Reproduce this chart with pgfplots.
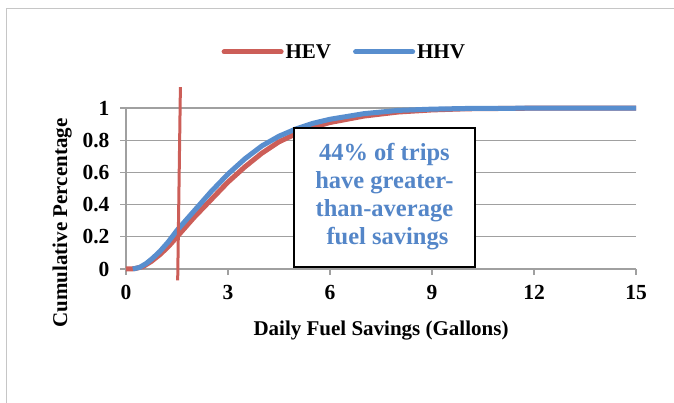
\documentclass[border=0pt]{standalone}
\usepackage{pgfplots}
\pgfplotsset{compat=1.18}
\usepackage{fontspec}
\setmainfont{Liberation Serif}
\definecolor{hevred}{RGB}{204,94,88}
\definecolor{hhvblue}{RGB}{88,142,206}
\definecolor{txtblue}{RGB}{84,134,200}
\definecolor{gridgray}{RGB}{160,160,160}
\begin{document}
\begin{tikzpicture}[x=1bp,y=1bp]
\path[use as bounding box] (0,0) rectangle (674,402);
\draw[gray!45, line width=1.2bp] (6.5,-10) -- (6.5,393.5) -- (690,393.5);
\begin{axis}[
  at={(126bp,133bp)}, anchor=south west,
  scale only axis, width=510bp, height=161bp,
  xmin=0, xmax=15, ymin=0, ymax=1,
  xtick={0,3,...,15}, ytick={0,0.2,...,1},
  yticklabels={0,0.2,0.4,0.6,0.8,1},
  axis lines*=left,
  axis line style={gridgray, line width=1.3bp},
  ymajorgrids, grid style={gridgray, line width=1.3bp},
  tick align=outside, major tick length=6bp,
  tick style={gridgray, line width=1.3bp},
  /pgf/number format/assume math mode=true,
  ticklabel style={font=\fontsize{21.5bp}{25bp}\selectfont\bfseries},
  xticklabel style={yshift=-7bp},
  yticklabel style={xshift=-7bp},
  label style={font=\fontsize{21bp}{25bp}\selectfont\bfseries},
  xlabel={Daily Fuel Savings (Gallons)},
  ylabel={Cumulative Percentage},
  xlabel style={at={(axis description cs:0.5,-0.38)}, anchor=center},
  ylabel style={at={(axis description cs:-0.125,0.285)}, anchor=center},
  clip=false,
  legend columns=2,
  legend style={draw=none, fill=none, at={(axis description cs:0.428,1.348)}, anchor=center,
    font=\fontsize{21bp}{25bp}\selectfont\bfseries,
    /tikz/every even column/.append style={column sep=20bp}},
  legend image code/.code={\draw[#1, line width=5bp, line cap=round] (0bp,0bp) -- (57bp,0bp);},
]
\addplot[hevred, line width=5bp, line join=round] coordinates {
(0,0) (0.25,0.002) (0.5,0.015) (0.75,0.048) (1,0.09) (1.25,0.14) (1.5,0.2) (1.75,0.26) (2,0.32)
(2.5,0.43) (3,0.54) (3.5,0.635) (4,0.72) (4.5,0.79) (5,0.84) (5.5,0.88) (6,0.91) (7,0.95)
(8,0.975) (9,0.988) (10,0.995) (12,0.999) (15,1)};
\addlegendentry{HEV}
\addplot[hhvblue, line width=5bp, line join=round] coordinates {
(0.2,0) (0.4,0.01) (0.6,0.035) (0.8,0.07) (1,0.11) (1.25,0.17) (1.5,0.24) (1.75,0.30) (2,0.36)
(2.5,0.48) (3,0.59) (3.5,0.685) (4,0.765) (4.5,0.825) (5,0.87) (5.5,0.905) (6,0.93) (7,0.965)
(8,0.985) (9,0.993) (10,0.997) (12,0.999) (15,1)};
\addlegendentry{HHV}
\addplot[hevred, line width=3bp, forget plot] coordinates {(1.6,1.13) (1.52,-0.07)};
\draw[black, line width=1.3bp, fill=white] (axis cs:4.94,0.012) rectangle (axis cs:10.26,0.876);
\node[align=center, text=txtblue, font=\fontsize{24.5bp}{28bp}\selectfont\bfseries]
  at (axis cs:7.6,0.45) {44\% of trips\\have greater-\\than-average\\\ fuel savings};
\end{axis}
\end{tikzpicture}
\end{document}
